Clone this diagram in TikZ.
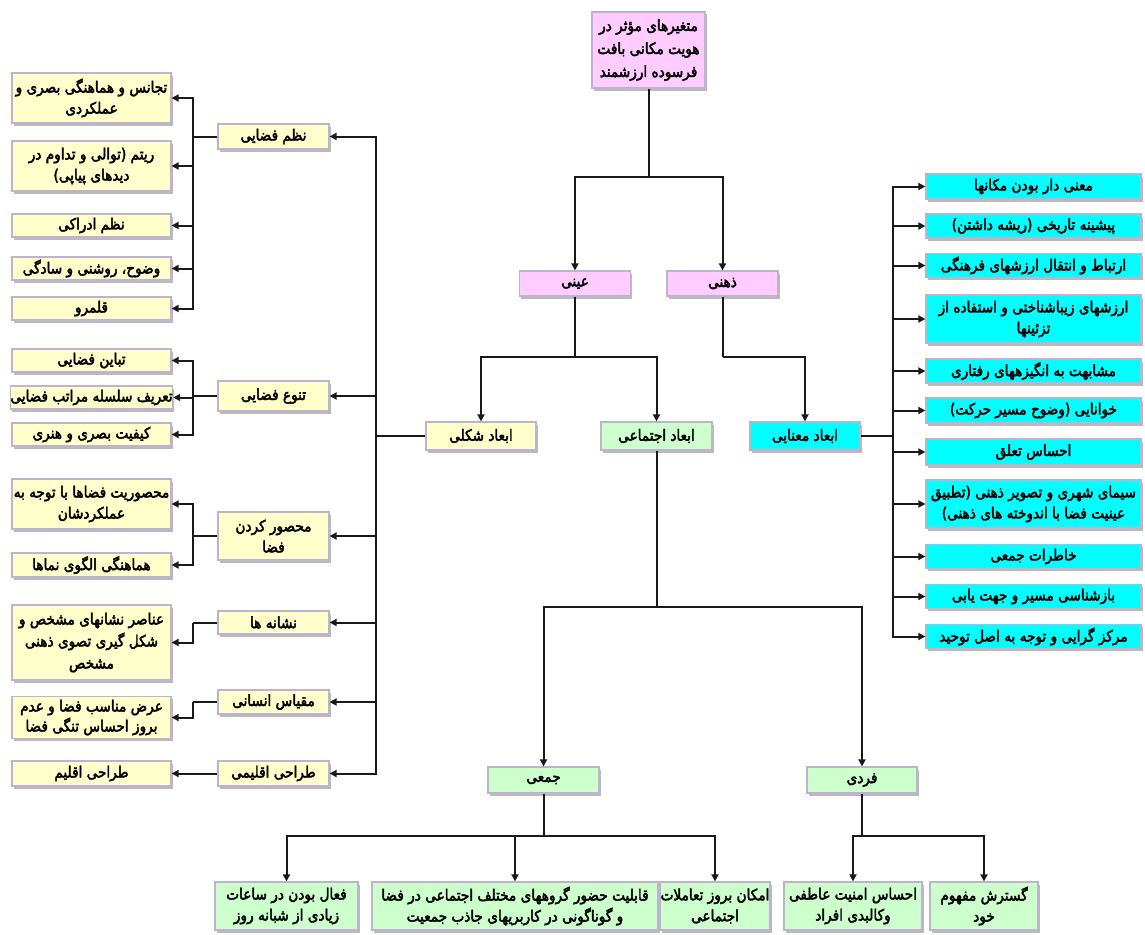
\documentclass[tikz,border=0pt]{standalone}
\usepackage{fontspec}
\usetikzlibrary{shadows,arrows.meta}
\TeXXeTstate=1
\newfontfamily\arabicfont[Script=Arabic,FakeBold=2.8,FakeStretch=0.88]{DejaVu Sans}
\newcommand{\fa}[1]{\beginR #1\endR}
\definecolor{cpink}{HTML}{FFCCFF}
\definecolor{cyel}{HTML}{FFFFCC}
\definecolor{cgreen}{HTML}{CCFFCC}
\definecolor{ccyan}{HTML}{00FFFF}
\definecolor{cbord}{HTML}{BDB2D0}
\tikzset{
  box/.style={draw=cbord, line width=1.2pt, inner sep=0pt, align=center,
    font=\arabicfont\fontsize{15.5}{21}\selectfont,
    drop shadow={shadow xshift=1.5pt, shadow yshift=-2.5pt, fill=black!60, opacity=0.45}},
  pbox/.style={box, fill=cpink},
  ybox/.style={box, fill=cyel},
  gbox/.style={box, fill=cgreen},
  cbox/.style={box, fill=ccyan},
  conn/.style={line width=2pt, draw=black!90},
  arr/.style={conn, -{Triangle[length=7pt,width=7pt]}},
}
\begin{document}
\begin{tikzpicture}[x=1pt,y=1pt]
\useasboundingbox (0,0) rectangle (1145,-934);
% top
\node[pbox, minimum width=113, minimum height=76, font=\arabicfont\fontsize{15.5}{23}\selectfont] (top) at (648.5,-50) {\fa{متغیرهای مؤثر در}\\\fa{هویت مکانی بافت}\\\fa{فرسوده ارزشمند}};
\node[pbox, minimum width=111, minimum height=25] (eini) at (575,-283.5) {\fa{عینی}};
\node[pbox, minimum width=111, minimum height=25] (zehni) at (722.5,-283.5) {\fa{ذهنی}};
\node[ybox, minimum width=110, minimum height=28] (shekli) at (481,-436) {\fa{ابعاد شکلی}};
\node[gbox, minimum width=111, minimum height=28] (ejt) at (656.5,-436) {\fa{ابعاد اجتماعی}};
\node[cbox, minimum width=110, minimum height=28] (manai) at (805,-436) {\fa{ابعاد معنایی}};
% right column
\node[cbox, minimum width=215, minimum height=25] (r1) at (1033.5,-186.5) {\fa{معنی دار بودن مکانها}};
\node[cbox, minimum width=215, minimum height=24] (r2) at (1033.5,-226) {\fa{پیشینه تاریخی (ریشه داشتن)}};
\node[cbox, minimum width=215, minimum height=24] (r3) at (1033.5,-265.5) {\fa{ارتباط و انتقال ارزشهای فرهنگی}};
\node[cbox, minimum width=215, minimum height=48] (r4) at (1033.5,-319) {\fa{ارزشهای زیباشناختی و استفاده از}\\\fa{تزئینها}};
\node[cbox, minimum width=215, minimum height=24] (r5) at (1033.5,-371) {\fa{مشابهت به انگیزههای رفتاری}};
\node[cbox, minimum width=215, minimum height=25] (r6) at (1033.5,-410.5) {\fa{خوانایی (وضوح مسیر حرکت)}};
\node[cbox, minimum width=215, minimum height=26] (r7) at (1033.5,-452) {\fa{احساس تعلق}};
\node[cbox, minimum width=215, minimum height=48] (r8) at (1033.5,-504) {\fa{سیمای شهری و تصویر ذهنی (تطبیق}\\\fa{عینیت فضا با اندوخته های ذهنی)}};
\node[cbox, minimum width=215, minimum height=24] (r9) at (1033.5,-556.5) {\fa{خاطرات جمعی}};
\node[cbox, minimum width=215, minimum height=24] (r10) at (1033.5,-596.5) {\fa{بازشناسی مسیر و جهت یابی}};
\node[cbox, minimum width=215, minimum height=24] (r11) at (1033.5,-636.5) {\fa{مرکز گرایی و توجه به اصل توحید}};
% left level 2
\node[ybox, minimum width=111, minimum height=25] (l1) at (273.5,-136.5) {\fa{نظم فضایی}};
\node[ybox, minimum width=111, minimum height=30] (l2) at (273.5,-396) {\fa{تنوع فضایی}};
\node[ybox, minimum width=111, minimum height=48] (l3) at (273.5,-536) {\fa{محصور کردن}\\\fa{فضا}};
\node[ybox, minimum width=111, minimum height=23] (l4) at (273.5,-622.5) {\fa{نشانه ها}};
\node[ybox, minimum width=111, minimum height=24] (l5) at (273.5,-702) {\fa{مقیاس انسانی}};
\node[ybox, minimum width=111, minimum height=25] (l6) at (273.5,-773.5) {\fa{طراحی اقلیمی}};
% left level 3
\node[ybox, minimum width=159, minimum height=50] (a1) at (91.5,-98) {\fa{تجانس و هماهنگی بصری و}\\\fa{عملکردی}};
\node[ybox, minimum width=159, minimum height=50] (a2) at (91.5,-166) {\fa{ریتم (توالی و تداوم در}\\\fa{دیدهای پیاپی)}};
\node[ybox, minimum width=159, minimum height=23] (a3) at (91.5,-225.5) {\fa{نظم ادراکی}};
\node[ybox, minimum width=159, minimum height=23] (a4) at (91.5,-268.5) {\fa{وضوح، روشنی و سادگی}};
\node[ybox, minimum width=159, minimum height=23] (a5) at (91.5,-308.5) {\fa{قلمرو}};
\node[ybox, minimum width=159, minimum height=23] (b1) at (91.5,-360.5) {\fa{تباین فضایی}};
\node[ybox, minimum width=159, minimum height=23] (b2) at (91.5,-397.5) {\fa{تعریف سلسله مراتب فضایی}};
\node[ybox, minimum width=159, minimum height=23] (b3) at (91.5,-434.5) {\fa{کیفیت بصری و هنری}};
\node[ybox, minimum width=159, minimum height=50] (c1) at (91.5,-504) {\fa{محصوریت فضاها با توجه به}\\\fa{عملکردشان}};
\node[ybox, minimum width=159, minimum height=24] (c2) at (91.5,-565) {\fa{هماهنگی الگوی نماها}};
\node[ybox, minimum width=159, minimum height=75, font=\arabicfont\fontsize{15.5}{22}\selectfont] (d1) at (91.5,-642.5) {\fa{عناصر نشانهای مشخص و}\\\fa{شکل گیری تصوی ذهنی}\\\fa{مشخص}};
\node[ybox, minimum width=159, minimum height=42, font=\arabicfont\fontsize{15.5}{20}\selectfont] (e1) at (91.5,-717.5) {\fa{عرض مناسب فضا و عدم}\\\fa{بروز احساس تنگی فضا}};
\node[ybox, minimum width=159, minimum height=25] (f1) at (91.5,-773.5) {\fa{طراحی اقلیم}};
% bottom
\node[gbox, minimum width=111, minimum height=26] (jam) at (543.5,-780) {\fa{جمعی}};
\node[gbox, minimum width=110, minimum height=26] (fard) at (862,-780) {\fa{فردی}};
\node[gbox, minimum width=143, minimum height=48] (g1) at (286.5,-906) {\fa{فعال بودن در ساعات}\\\fa{زیادی از شبانه روز}};
\node[gbox, minimum width=286, minimum height=48] (g2) at (515,-906) {\fa{قابلیت حضور گروههای مختلف اجتماعی در فضا}\\\fa{و گوناگونی در کاربریهای جاذب جمعیت}};
\node[gbox, minimum width=110, minimum height=48] (g3) at (715,-906) {\fa{امکان بروز تعاملات}\\\fa{اجتماعی}};
\node[gbox, minimum width=138, minimum height=48] (g4) at (853,-906) {\fa{احساس امنیت عاطفی}\\\fa{وکالبدی افراد}};
\node[gbox, minimum width=108, minimum height=48] (g5) at (984,-906) {\fa{گسترش مفهوم}\\\fa{خود}};
% connectors: top
\draw[conn] (top.south) -- (648.5,-177) coordinate (t1);
\draw[arr] (t1) -| (eini.north);
\draw[arr] (t1) -| (zehni.north);
\draw[conn] (eini.south) -- (575,-357) coordinate (t2);
\draw[arr] (t2) -| (shekli.north);
\draw[arr] (t2) -| (ejt.north);
\draw[conn] (zehni.south) -- (722.5,-357) coordinate (t3);
\draw[arr] (t3) -| (manai.north);
% right trunk
\draw[conn] (manai.east) -- (893,-436) coordinate (rt);
\foreach \n in {r1,r2,r3,r4,r5,r6,r7,r8,r9,r10,r11}{\draw[arr] (rt) |- (\n.west);}
% left trunk
\draw[conn] (shekli.west) -- (376,-436) coordinate (lt);
\foreach \n in {l1,l2,l3,l4,l5,l6}{\draw[arr] (lt) |- (\n.east);}
\draw[conn] (l1.west) -- (193,-136.5) coordinate (lb1);
\foreach \n in {a1,a2,a3,a4,a5}{\draw[arr] (lb1) |- (\n.east);}
\draw[conn] (l2.west) -- (193,-396) coordinate (lb2);
\foreach \n in {b1,b2,b3}{\draw[arr] (lb2) |- (\n.east);}
\draw[conn] (l3.west) -- (193,-536) coordinate (lb3);
\foreach \n in {c1,c2}{\draw[arr] (lb3) |- (\n.east);}
\draw[conn] (l4.west) -- (193,-622.5) coordinate (lb4);
\draw[arr] (lb4) |- (d1.east);
\draw[conn] (l5.west) -- (193,-702) coordinate (lb5);
\draw[arr] (lb5) |- (e1.east);
\draw[conn] (l6.west) -- (193,-773.5) coordinate (lb6);
\draw[arr] (lb6) |- (f1.east);
% bottom
\draw[conn] (ejt.south) -- (656.5,-607) coordinate (b0);
\draw[arr] (b0) -| (jam.north);
\draw[arr] (b0) -| (fard.north);
\draw[conn] (jam.south) -- (543.5,-836) coordinate (bj);
\foreach \n in {g1,g2,g3}{\draw[arr] (bj) -| (\n.north);}
\draw[conn] (fard.south) -- (862,-836) coordinate (bf);
\foreach \n in {g4,g5}{\draw[arr] (bf) -| (\n.north);}
\end{tikzpicture}
\end{document}
